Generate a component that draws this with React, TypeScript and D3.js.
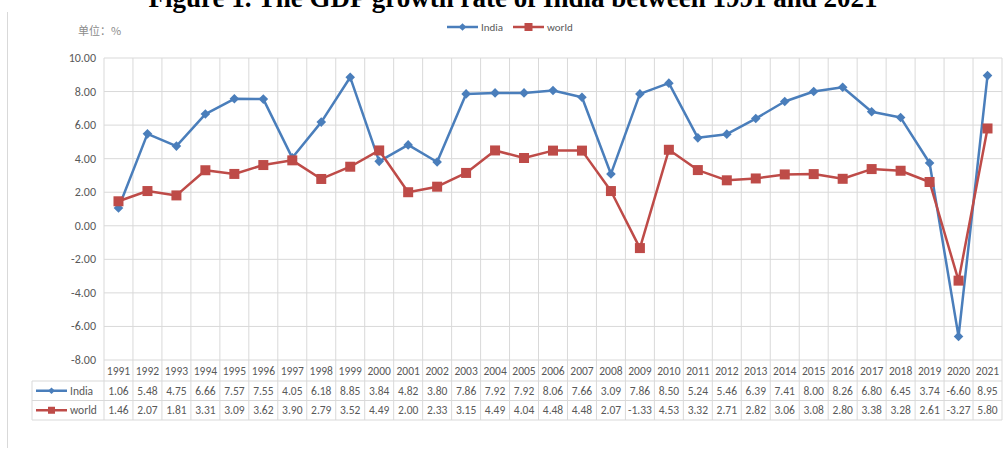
import React from "react";
import * as d3 from "d3";

const years = ["1991","1992","1993","1994","1995","1996","1997","1998","1999","2000","2001","2002","2003","2004","2005","2006","2007","2008","2009","2010","2011","2012","2013","2014","2015","2016","2017","2018","2019","2020","2021"];
const india = [1.06,5.48,4.75,6.66,7.57,7.55,4.05,6.18,8.85,3.84,4.82,3.80,7.86,7.92,7.92,8.06,7.66,3.09,7.86,8.50,5.24,5.46,6.39,7.41,8.00,8.26,6.80,6.45,3.74,-6.60,8.95];
const world = [1.46,2.07,1.81,3.31,3.09,3.62,3.90,2.79,3.52,4.49,2.00,2.33,3.15,4.49,4.04,4.48,4.48,2.07,-1.33,4.53,3.32,2.71,2.82,3.06,3.08,2.80,3.38,3.28,2.61,-3.27,5.80];
const yTicks = [-8,-6,-4,-2,0,2,4,6,8,10];
const seriesNames = ["India", "world"];

const BLUE = "#4A7EBB";
const RED = "#BE4B48";
const GRID = "#D9D9D9";
const TXT = "#595959";
const FONT = "Carlito, Calibri, 'Liberation Sans', Arial, sans-serif";

export default function App() {
  const W = 1006, H = 450;
  const x = d3.scaleBand().domain(years).range([104, 1002]).padding(0);
  const y = d3.scaleLinear().domain([-8, 10]).range([360, 58]);
  const cx = (yr: string) => (x(yr) as number) + x.bandwidth() / 2;
  const line = d3.line<number>().x((_, i) => cx(years[i])).y(d => y(d));

  const rowTop = [360, 381, 400.5, 420];
  const tableLeft = 32;

  const diamond = (px: number, py: number, r: number) =>
    `M${px},${py - r}L${px + r},${py}L${px},${py + r}L${px - r},${py}Z`;

  const series = [
    { name: seriesNames[0], data: india, color: BLUE, kind: "d" },
    { name: seriesNames[1], data: world, color: RED, kind: "s" },
  ];

  const marker = (kind: string, px: number, py: number, color: string, key: string, scale = 1) =>
    kind === "d" ? (
      <path key={key} d={diamond(px, py, 4.8 * scale)} fill={color} />
    ) : (
      <rect key={key} x={px - 5 * scale} y={py - 5 * scale} width={10 * scale} height={10 * scale} fill={color} />
    );

  return (
    <svg width={W} height={H} style={{ position: "absolute", left: 0, top: 0, background: "#fff" }} fontFamily={FONT}>
      <rect x={0} y={0} width={W} height={H} fill="#fff" />
      <text x={513} y={7} textAnchor="middle" fontFamily="'Liberation Serif', 'Times New Roman', serif" fontWeight="bold" fontSize={27} fill="#000">
        Figure 1. The GDP growth rate of India between 1991 and 2021
      </text>
      <line x1={7.5} x2={7.5} y1={12} y2={448} stroke={GRID} strokeWidth={1} />

      <text x={78} y={35} fontSize={11} fill="#8C8C8C" fontFamily="'Noto Sans CJK SC', sans-serif">单位：%</text>

      {/* legend */}
      {series.map((s, i) => {
        const lx = i === 0 ? 447 : 513;
        const ly = 27;
        return (
          <g key={s.name}>
            <line x1={lx} x2={lx + 31} y1={ly} y2={ly} stroke={s.color} strokeWidth={2.5} />
            {marker(s.kind, lx + 15.5, ly, s.color, "m", 0.8)}
            <text x={lx + 34} y={ly + 4} fontSize={11} fill={TXT}>{s.name}</text>
          </g>
        );
      })}

      {/* horizontal grid */}
      {yTicks.map(t => (
        <g key={t}>
          <line x1={104} x2={1002} y1={y(t)} y2={y(t)} stroke={GRID} strokeWidth={1} />
          <text x={96} y={y(t) + 4} textAnchor="end" fontSize={12} fill={TXT}>{t.toFixed(2)}</text>
        </g>
      ))}

      {/* vertical grid (column boundaries through table) */}
      {years.map(yr => (
        <line key={yr} x1={x(yr) as number} x2={x(yr) as number} y1={58} y2={rowTop[3]} stroke={GRID} strokeWidth={1} />
      ))}
      <line x1={1002} x2={1002} y1={58} y2={rowTop[3]} stroke={GRID} strokeWidth={1} />

      {/* table lines */}
      <line x1={tableLeft} x2={1002} y1={rowTop[1]} y2={rowTop[1]} stroke={GRID} />
      <line x1={tableLeft} x2={1002} y1={rowTop[2]} y2={rowTop[2]} stroke={GRID} />
      <line x1={tableLeft} x2={1002} y1={rowTop[3]} y2={rowTop[3]} stroke={GRID} />
      <line x1={tableLeft} x2={tableLeft} y1={rowTop[1]} y2={rowTop[3]} stroke={GRID} />

      {/* year header */}
      {years.map(yr => (
        <text key={yr} x={cx(yr)} y={(rowTop[0] + rowTop[1]) / 2 + 4} textAnchor="middle" fontSize={11.5} fill={TXT}>{yr}</text>
      ))}

      {/* table rows */}
      {series.map((s, si) => {
        const r0 = rowTop[si + 1], r1 = rowTop[si + 2];
        const my = (r0 + r1) / 2;
        return (
          <g key={s.name}>
            <line x1={36} x2={67} y1={my} y2={my} stroke={s.color} strokeWidth={2.5} />
            {marker(s.kind, 51.5, my, s.color, "m", 0.7)}
            <text x={70} y={my + 4} fontSize={11.5} fill={TXT}>{s.name}</text>
            {s.data.map((v, i) => (
              <text key={i} x={cx(years[i])} y={my + 4} textAnchor="middle" fontSize={11.5} fill={TXT}>{v.toFixed(2)}</text>
            ))}
          </g>
        );
      })}

      {/* series lines */}
      {series.map(s => (
        <g key={s.name}>
          <path d={line(s.data) as string} fill="none" stroke={s.color} strokeWidth={2.5} strokeLinejoin="round" />
          {s.data.map((v, i) => marker(s.kind, cx(years[i]), y(v), s.color, String(i)))}
        </g>
      ))}
    </svg>
  );
}
